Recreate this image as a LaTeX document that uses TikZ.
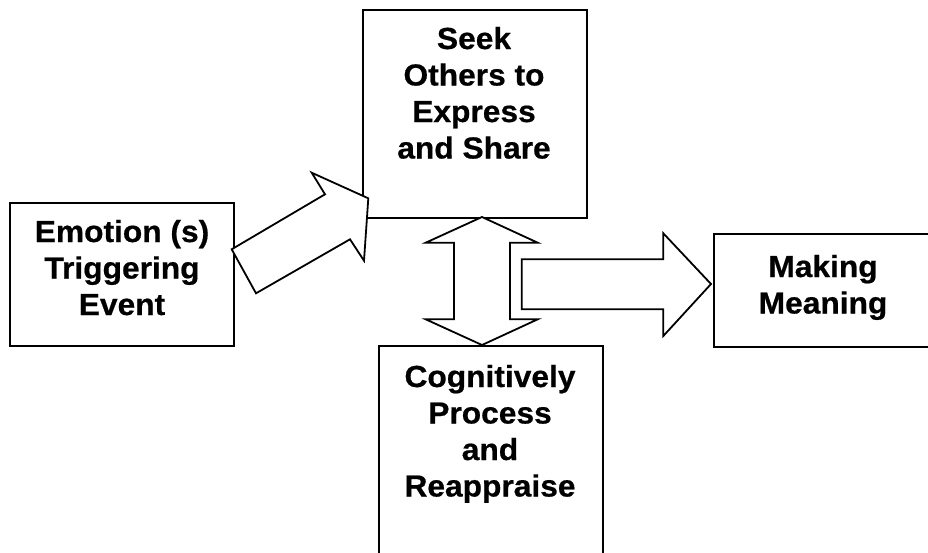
\documentclass[tikz,border=0pt]{standalone}
\usepackage{fontspec}
\setmainfont{Liberation Sans}[FakeStretch=1.04,BoldFeatures={FakeBold=0.6}]
\begin{document}
\begin{tikzpicture}[x=1pt,y=-1pt,
  box/.style={draw, line width=1.8pt, inner sep=0pt, anchor=north west},
  blockarrow/.style={draw, fill=white, line width=1.8pt, line join=miter},
  lbl/.style={anchor=base, inner sep=0pt, font=\fontsize{30.5}{36.5}\selectfont\bfseries}]
\useasboundingbox (0,0) rectangle (928,552);
\fill[white] (0,0) rectangle (928,552);
\clip (0,0) rectangle (928,552);
% boxes
\node[box, minimum width=224pt, minimum height=143pt] (A) at (9,202) {};
\node[box, minimum width=224pt, minimum height=208pt] (B) at (362,9) {};
\node[box, minimum width=224pt, minimum height=215pt] (C) at (378,345) {};
\node[box, minimum width=220pt, minimum height=113pt] (D) at (713,233) {};
% texts
\node[lbl] (tA) at (122,242) {\begin{tabular}[t]{@{}c@{}}Emotion (s)\\Triggering\\Event\end{tabular}};
\node[lbl] (tB) at (474,49) {\begin{tabular}[t]{@{}c@{}}Seek\\Others to\\Express\\and Share\end{tabular}};
\node[lbl] (tC) at (490,387) {\begin{tabular}[t]{@{}c@{}}Cognitively\\Process\\and\\Reappraise\end{tabular}};
\node[lbl] (tD) at (823,277) {\begin{tabular}[t]{@{}c@{}}Making\\Meaning\end{tabular}};
% diagonal block arrow from A to B
\draw[blockarrow] (231.7,249.3) -- (325,194.3) -- (311.7,172.7) -- (368.3,198.3)
  -- (364,260.7) -- (350,239.3) -- (256,293.3) -- cycle;
% double block arrow between B and C
\draw[blockarrow] (482,217) -- (537.7,242.7) -- (510,242.7) -- (510,319.3)
  -- (537.7,319.3) -- (482,345) -- (425.7,319.3) -- (454,319.3)
  -- (454,242.7) -- (425.7,242.7) -- cycle;
% right block arrow to D
\draw[blockarrow] (521.7,259.3) -- (663.3,259.3) -- (663.3,233.3) -- (711,284)
  -- (663.3,336) -- (663.3,309.3) -- (521.7,309.3) -- cycle;
\end{tikzpicture}
\end{document}
